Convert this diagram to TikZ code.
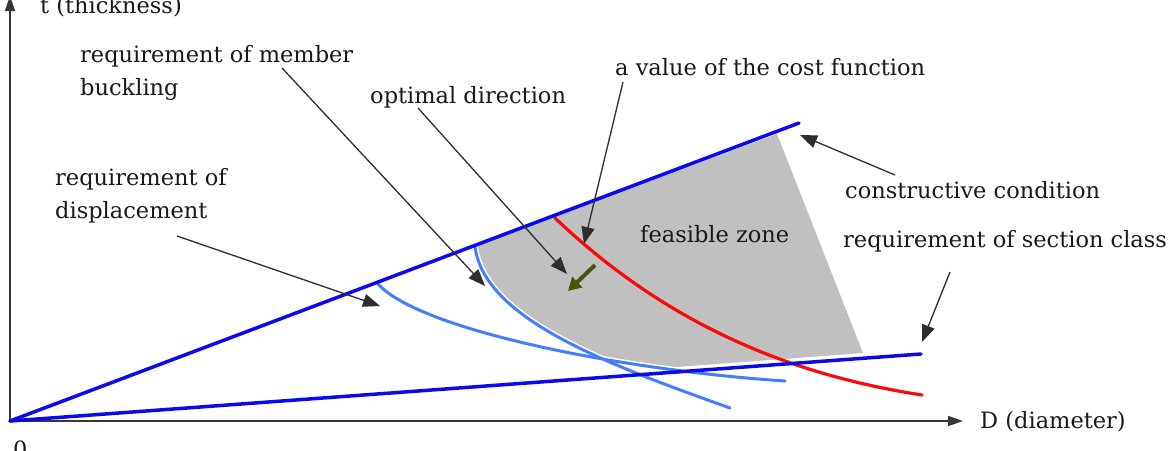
\documentclass[tikz,border=0pt]{standalone}
\usepackage{fontspec}
\setmainfont{DejaVu Serif}
\usetikzlibrary{arrows.meta}
\definecolor{boundblue}{RGB}{10,10,235}
\definecolor{reqblue}{RGB}{70,125,255}
\definecolor{costred}{RGB}{250,10,10}
\definecolor{zonegray}{RGB}{192,192,192}
\definecolor{dirgreen}{RGB}{70,85,15}
\definecolor{axisgray}{RGB}{55,55,55}
\definecolor{txt}{RGB}{25,25,25}
\begin{document}
\begin{tikzpicture}[x=1pt,y=-1pt,
  lbl/.style={font=\fontsize{22.5}{33}\selectfont, inner sep=0pt, anchor=base west, text=txt, align=left},
  note/.style={draw=black!82, line width=1.3pt, -{Triangle[length=17pt,width=13pt]}},
  bound/.style={draw=boundblue, line width=3.5pt, line cap=round},
  req/.style={draw=reqblue, line width=3pt, line cap=round},
  halo/.style={draw=white, line width=6pt},
  cost/.style={draw=costred, line width=3.2pt, line cap=round},
  axisline/.style={draw=axisgray, line width=1.8pt, -{Triangle[length=15pt,width=10pt]}}
]
\useasboundingbox (0,0) rectangle (1169,450);
\fill[white] (0,0) rectangle (1169,450);

% feasible zone, clipped above both requirement curves
\begin{scope}
  \clip (475,247) .. controls (485,320) and (610,365) .. (730,408) -- (1169,408) -- (1169,0) -- (475,0) -- cycle;
  \clip (378,284) .. controls (420,330) and (620,370) .. (785,381) -- (1169,381) -- (1169,0) -- (378,0) -- cycle;
  \fill[zonegray] (475,246) -- (777,134) -- (863,353) -- (677,367) -- (600,420) -- (460,420) -- (460,246) -- cycle;
\end{scope}

% requirement curves
\draw[halo] (378,284) .. controls (420,330) and (620,370) .. (785,381);
\draw[halo] (475,247) .. controls (485,320) and (610,365) .. (730,408);
\draw[req] (378,284) .. controls (420,330) and (620,370) .. (785,381);
\draw[req] (475,247) .. controls (485,320) and (610,365) .. (730,408);

% cost function
\draw[cost] (555,218) .. controls (655,313) and (772,372) .. (922,395);

% axes
\coordinate (O) at (10,421);
\coordinate (xend) at (963,421);
\coordinate (yend) at (10,-4);
\draw[axisline] (O) -- (xend);
\draw[axisline] (O) -- (yend);

% boundary lines
\coordinate (upend) at (799,123);
\coordinate (lowend) at (921,354);
\draw[bound] (O) -- (upend);
\draw[bound] (O) -- (lowend);

% optimal direction arrow
\coordinate (g1) at (595,265);
\coordinate (g2) at (568,291);
\draw[draw=dirgreen, line width=4pt, -{Triangle[length=13pt,width=14pt]}] (g1) -- (g2);

% labels
\node[lbl] (tlab) at (40,13) {t (thickness)};
\node[lbl] (zero) at (13,457) {0};
\node[lbl] (dlab) at (980,428) {D (diameter)};
\node[lbl] (buck) at (80,62) {requirement of member};
\node[lbl] (buck2) at (80,95) {buckling};
\node[lbl] (disp) at (55,185) {requirement of};
\node[lbl] (disp2) at (55,218) {displacement};
\node[lbl] (opt) at (370,103) {optimal direction};
\node[lbl] (costl) at (615,75) {a value of the cost function};
\node[lbl] (constr) at (845,198) {constructive condition};
\node[lbl] (sect) at (843,247) {requirement of section class};
\node[lbl] (feas) at (640,242) {feasible zone};

% annotation arrows
\coordinate (bs) at (282,68);   \coordinate (bt) at (485,286);
\coordinate (ds) at (177,236);  \coordinate (dt) at (380,306);
\coordinate (os) at (418,108);  \coordinate (ot) at (567,274);
\coordinate (cs) at (623,82);   \coordinate (ct) at (584,244);
\coordinate (ks) at (895,175);  \coordinate (kt) at (800,135);
\coordinate (ss) at (950,272);  \coordinate (st) at (922,342);
\draw[note] (bs) -- (bt);
\draw[note] (ds) -- (dt);
\draw[note] (os) -- (ot);
\draw[note] (cs) -- (ct);
\draw[note] (ks) -- (kt);
\draw[note] (ss) -- (st);
\end{tikzpicture}
\end{document}
